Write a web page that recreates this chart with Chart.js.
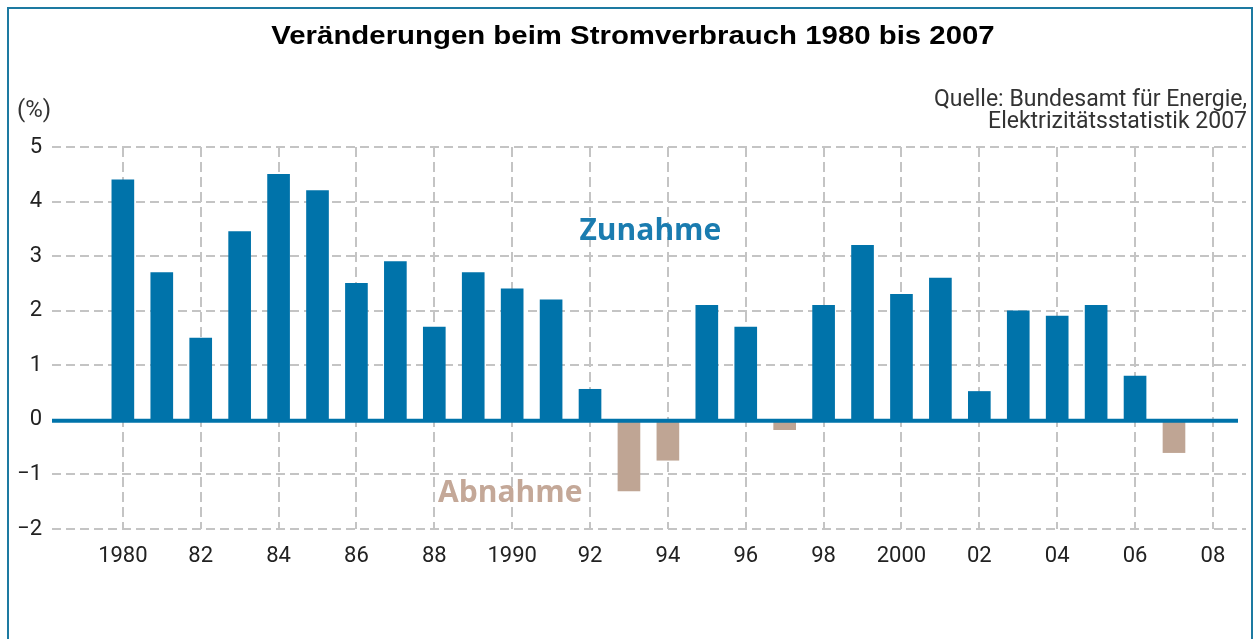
<!DOCTYPE html>
<html>
<head>
<meta charset="utf-8">
<script src="https://cdn.jsdelivr.net/npm/chart.js@4"></script>
<style>
  html, body { margin: 0; padding: 0; background: #ffffff; overflow: hidden; }
  #wrap { position: relative; width: 1256px; height: 639px; }
  #frame { position: absolute; left: 7px; top: 7px; width: 1242px; height: 700px; border: 2px solid #1d7aa1; box-sizing: content-box; pointer-events: none; }
  canvas { position: absolute; left: 0; top: 0; }
</style>
</head>
<body>
<div id="wrap">
  <canvas id="c" width="1256" height="639"></canvas>
  <div id="frame"></div>
</div>
<script>
const titleText = "Veränderungen beim Stromverbrauch 1980 bis 2007";
const unitLabel = "(%)";
const sourceLines = ["Quelle: Bundesamt für Energie,", "Elektrizitätsstatistik 2007"];
const years = [1980, 1981, 1982, 1983, 1984, 1985, 1986, 1987, 1988, 1989,
               1990, 1991, 1992, 1993, 1994, 1995, 1996, 1997, 1998, 1999,
               2000, 2001, 2002, 2003, 2004, 2005, 2006, 2007];
const changes = [4.4, 2.7, 1.5, 3.45, 4.5, 4.2, 2.5, 2.9, 1.7, 2.7,
                 2.4, 2.2, 0.56, -1.3, -0.74, 2.1, 1.7, -0.18, 2.1, 3.2,
                 2.3, 2.6, 0.52, 2.0, 1.9, 2.1, 0.8, -0.6];
const xTickYears = [1980, 1982, 1984, 1986, 1988, 1990, 1992, 1994, 1996, 1998, 2000, 2002, 2004, 2006, 2008];
const xTickLabels = ["1980", "82", "84", "86", "88", "1990", "92", "94", "96", "98", "2000", "02", "04", "06", "08"];
const yTicks = [-2, -1, 0, 1, 2, 3, 4, 5];
const labelUp = "Zunahme";
const labelDown = "Abnahme";

const BLUE = "#0073aa";
const TAN = "#bfa594";
const GRID = "#c4c4c4";
const TICKFONT = "Roboto, 'DejaVu Sans', sans-serif";

const extras = {
  id: "extras",
  afterDatasetsDraw(chart) {
    const ctx = chart.ctx;
    const ys = chart.scales.y;
    const area = chart.chartArea;
    const y0 = ys.getPixelForValue(0) + 1;
    ctx.save();
    ctx.strokeStyle = BLUE;
    ctx.lineWidth = 4;
    ctx.beginPath();
    ctx.moveTo(area.left, y0);
    ctx.lineTo(area.right - 8, y0);
    ctx.stroke();
    ctx.restore();
  },
  afterDraw(chart) {
    const ctx = chart.ctx;
    const xs = chart.scales.x, ys = chart.scales.y;
    ctx.save();
    // title (horizontally stretched like the reference)
    ctx.fillStyle = "#000";
    ctx.font = "bold 26px 'Liberation Sans', Arial, sans-serif";
    ctx.textAlign = "center";
    ctx.textBaseline = "alphabetic";
    ctx.save();
    ctx.translate(633, 44);
    ctx.scale(1.13, 1);
    ctx.fillText(titleText, 0, 0);
    ctx.restore();
    // unit
    ctx.fillStyle = "#333";
    ctx.font = "24px " + TICKFONT;
    ctx.textAlign = "left";
    ctx.fillText(unitLabel, 17, 117);
    // source
    ctx.font = "23px " + TICKFONT;
    ctx.textAlign = "right";
    ctx.fillStyle = "#333";
    ctx.fillText(sourceLines[0], 1247, 106);
    ctx.fillText(sourceLines[1], 1247, 128);
    // annotations
    ctx.textAlign = "center";
    ctx.textBaseline = "middle";
    ctx.font = "bold 30px 'Open Sans', " + TICKFONT;
    ctx.fillStyle = "#1a7cb0";
    ctx.fillText(labelUp, xs.getPixelForValue(1993.55), ys.getPixelForValue(3.45));
    ctx.font = "bold 30px 'Open Sans', " + TICKFONT;
    ctx.fillStyle = "#c4a898";
    ctx.fillText(labelDown, xs.getPixelForValue(1989.95), ys.getPixelForValue(-1.34));
    ctx.restore();
  }
};

new Chart(document.getElementById("c"), {
  type: "bar",
  data: {
    datasets: [{
      data: years.map((yr, i) => ({ x: yr, y: changes[i] })),
      backgroundColor: (c) => (c.raw && c.raw.y < 0 ? TAN : BLUE),
      barThickness: 22,
      borderWidth: 0
    }]
  },
  options: {
    responsive: false,
    animation: false,
    devicePixelRatio: 1,
    layout: { padding: { left: 7, right: 10, top: 147, bottom: 60 } },
    plugins: { legend: { display: false }, tooltip: { enabled: false }, title: { display: false } },
    scales: {
      x: {
        type: "linear",
        min: 1978.18,
        max: 2008.85,
        offset: false,
        afterBuildTicks(scale) { scale.ticks = xTickYears.map(v => ({ value: v })); },
        afterFit(scale) { scale.height = 50; },
        ticks: {
          autoSkip: false,
          maxRotation: 0,
          padding: 14,
          color: "#222",
          font: { family: TICKFONT, size: 22 },
          callback: (v) => { const i = xTickYears.indexOf(v); return i >= 0 ? xTickLabels[i] : ""; }
        },
        grid: { offset: false, color: GRID, lineWidth: 2, drawTicks: false },
        border: { display: false, dash: [10, 5] }
      },
      y: {
        min: -2,
        max: 5,
        afterBuildTicks(scale) { scale.ticks = yTicks.map(v => ({ value: v })); },
        afterFit(scale) { scale.width = 45; },
        ticks: {
          padding: 10,
          color: "#222",
          font: { family: TICKFONT, size: 22 },
          callback: (v) => (v < 0 ? "\u2212" + Math.abs(v) : String(v))
        },
        grid: { color: (c) => (c.tick && c.tick.value === 0 ? "rgba(0,0,0,0)" : GRID), lineWidth: 2, drawTicks: false },
        border: { display: false, dash: [9, 5] }
      }
    }
  },
  plugins: [extras]
});
</script>
</body>
</html>
